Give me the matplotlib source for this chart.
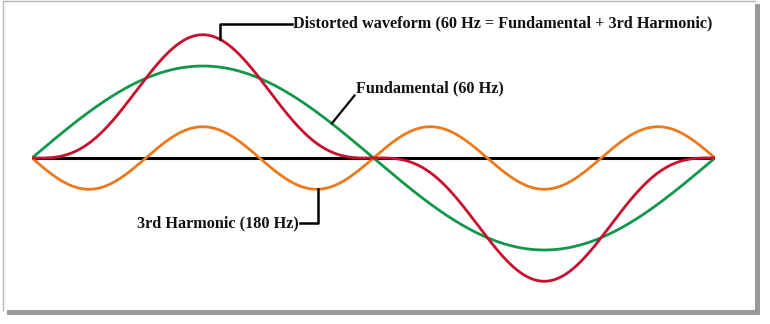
import numpy as np
import matplotlib
matplotlib.use("Agg")
import matplotlib.pyplot as plt
from matplotlib.patches import Rectangle

# Datos: una onda fundamental y su 3er armonico
freqs = [60, 180]            # Hz
amps = [1.0, 0.34]           # amplitud relativa (armonico / fundamental)
harm_sign = -1               # el armonico arranca hacia abajo
labels = ["Distorted waveform (60 Hz = Fundamental + 3rd Harmonic)",
          "Fundamental (60 Hz)",
          "3rd Harmonic (180 Hz)"]

# un ciclo de la fundamental, en grados
deg = np.linspace(0, 360, 721)
fund = amps[0] * np.sin(np.radians(deg * freqs[0] / freqs[0]))
harm = harm_sign * amps[1] * np.sin(np.radians(deg * freqs[1] / freqs[0]))
dist = fund + harm

col_red = "#c8102e"
col_green = "#12964a"
col_orange = "#ec7a1c"

fig = plt.figure(figsize=(7.7, 3.24), dpi=100)

# marco con sombra (coordenadas en pixeles)
bg = fig.add_axes([0, 0, 1, 1])
bg.set_xlim(0, 770)
bg.set_ylim(324, 0)
bg.axis("off")
bg.add_patch(Rectangle((7, 310), 753, 5, color="#999999", lw=0))
bg.add_patch(Rectangle((755, 4), 5, 311, color="#999999", lw=0))
bg.plot([3, 3, 755], [310, 1, 1], color="#b5b5b5", lw=1)

ax = fig.add_axes([32 / 770, 28 / 324, 683 / 770, 276 / 324])
ax.set_xlim(0, 360)
ax.set_ylim(-1.5, 1.5)
ax.axis("off")

ax.plot([0, 360], [0, 0], color="black", lw=2.2, solid_capstyle="butt")
ax.plot(deg, fund, color=col_green, lw=2)
ax.plot(deg, harm, color=col_orange, lw=2)
ax.plot(deg, dist, color=col_red, lw=2)

fkw = dict(family="Liberation Serif", fontweight="bold", fontsize=11.7, color="#111111")

# etiqueta onda distorsionada
xd = 99
yd = np.interp(xd, deg, dist)
ax.plot([xd, xd, 137], [yd, 1.46, 1.46], color="black", lw=1.8)
ax.text(137.5, 1.46, labels[0], va="center", ha="left", **fkw)

# etiqueta fundamental
xf = 158
yf = np.interp(xf, deg, fund)
ax.plot([xf, 170], [yf, 0.68], color="black", lw=1.6)
ax.text(171, 0.76, labels[1], va="center", ha="left", **fkw)

# etiqueta armonico
xh = 151
yh = np.interp(xh, deg, harm)
ax.plot([xh, xh, 141], [yh, -0.71, -0.71], color="black", lw=1.8)
ax.text(140.5, -0.71, labels[2], va="center", ha="right", **fkw)

fig.savefig("out.png", dpi=100)
